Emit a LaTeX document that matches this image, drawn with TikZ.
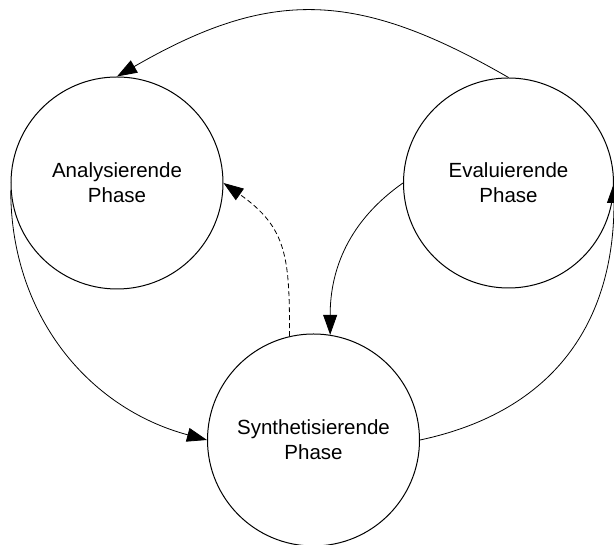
\documentclass[tikz,border=0pt]{standalone}
\usepackage{fontspec}
\setmainfont{Liberation Sans}
\usetikzlibrary{arrows.meta}
\begin{document}
\begin{tikzpicture}[x=1pt,y=1pt,
  phase/.style={circle,draw,line width=1pt,minimum size=212pt,inner sep=0pt,
    align=center,font=\fontsize{20.5}{25}\selectfont},
  flow/.style={line width=0.8pt,-{Triangle[length=20pt,width=14pt]}},
  back/.style={flow,dash pattern=on 5pt off 3pt}]
\useasboundingbox (0,0) rectangle (614,545);
% the three phases
\node[phase] (ana) at (117,362) {Analysierende\\Phase};
\node[phase,minimum size=210pt] (eva) at (508.5,362) {Evaluierende\\Phase};
\node[phase] (syn) at (313.5,105) {Synthetisierende\\Phase};
% transitions between phases
\draw[flow] (eva.north) to[out=150,in=30,looseness=1.15] (ana.north);
\draw[flow] (eva.west) to[out=215,in=90] (syn.81);
\draw[back] (syn.103) to[out=90,in=-35,looseness=1.2] (ana.east);
\draw[flow] (ana.184) to[out=270,in=165] (syn.west);
\draw[flow] (syn.east) to[out=12,in=270,looseness=1.1] (eva.east);
\end{tikzpicture}
\end{document}
